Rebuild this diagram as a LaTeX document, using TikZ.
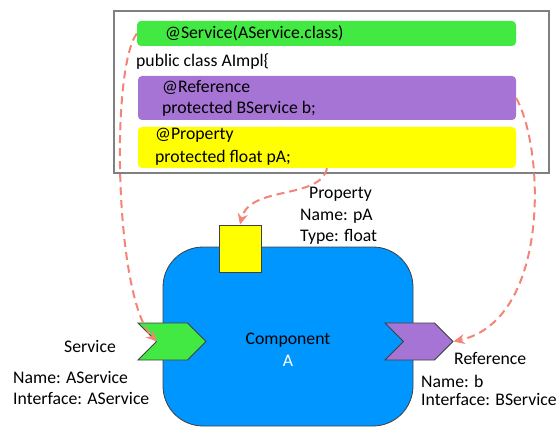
\documentclass[tikz,border=0pt]{standalone}
\usepackage{fontspec}
\setmainfont{Carlito}
\usetikzlibrary{shapes.symbols,arrows.meta}
\definecolor{svcgreen}{RGB}{67,233,67}
\definecolor{refpurple}{RGB}{165,116,212}
\definecolor{propyellow}{RGB}{255,255,0}
\definecolor{compblue}{RGB}{0,150,255}
\definecolor{wire}{RGB}{244,132,118}
\definecolor{edgegray}{RGB}{64,64,64}
\tikzset{
  txt/.style={anchor=base west,inner sep=0pt,font=\fontsize{17.7}{21}\selectfont},
  bar/.style={rectangle,rounded corners=4pt,inner sep=0pt,draw=none},
  chevron/.style={signal,signal to=east,signal from=west,signal pointer angle=90,
    draw=edgegray,line width=0.8pt,inner sep=0pt,minimum width=68pt,minimum height=37pt},
  wiring/.style={draw=wire,line width=2pt,dash pattern=on 8pt off 5pt,
    -{Stealth[length=11pt,width=10pt]}},
}
\begin{document}
\begin{tikzpicture}[x=1pt,y=-1pt]
\useasboundingbox (0,0) rectangle (558,428);

% annotated source class
\node[rectangle,draw=gray,line width=1.2pt,minimum width=435pt,minimum height=162pt,inner sep=0pt] (cls) at (331.5,92) {};
\node[bar,fill=svcgreen,minimum width=379pt,minimum height=25pt] (svcbar) at (326.5,33.5) {};
\node[bar,fill=refpurple,minimum width=378pt,minimum height=44pt] (refbar) at (327,98) {};
\node[bar,fill=propyellow,minimum width=378pt,minimum height=41pt] (propbar) at (327,147.5) {};
\node[txt] (t1) at (165,39) {@Service(AService.class)};
\node[txt] (t2) at (136,67) {public class AImpl\{};
\node[txt] (t3) at (162,93) {@Reference};
\node[txt] (t4) at (162,114) {protected BService b;};
\node[txt] (t5) at (155,140) {@Property};
\node[txt] (t6) at (155,163) {protected float pA;};

% component with its service, reference and property
\node[rectangle,rounded corners=40pt,fill=compblue,draw=edgegray,line width=0.8pt,
  minimum width=250pt,minimum height=179pt,inner sep=0pt] (comp) at (288,336.5) {};
\node[rectangle,fill=propyellow,draw=edgegray,line width=0.8pt,minimum width=42pt,
  minimum height=47pt,inner sep=0pt] (propsq) at (240,248.5) {};
\node[chevron,fill=svcgreen] (srv) at (172,341.5) {};
\node[chevron,fill=refpurple] (ref) at (419,341.5) {};
% inner notch of the service chevron
\coordinate (srvnotch) at ([xshift=-15pt]srv.center);

\node[txt,anchor=base] (c1) at (288,344) {Component};
\node[txt,anchor=base,text=white] (c2) at (288,366) {A};

\node[txt] (s1) at (64,352) {Service};
\node[txt] (s2) at (13,383) {Name: AService};
\node[txt] (s3) at (13,404) {Interface: AService};

\node[txt] (r1) at (454,364) {Reference};
\node[txt] (r2) at (421,387) {Name: b};
\node[txt] (r3) at (421,405) {Interface: BService};

\node[txt] (p1) at (309,198) {Property};
\node[txt] (p2) at (300,220) {Name: pA};
\node[txt] (p3) at (300,241) {Type: float};

% mapping of annotations onto the component
\draw[wiring] (svcbar.west) .. controls (110,70) and (115,300) .. (srvnotch);
\draw[wiring] (refbar.east) .. controls (545,150) and (550,320) .. (ref.east);
\draw[wiring] (propbar.south) .. controls (320,200) and (250,185) .. (propsq.north);
\end{tikzpicture}
\end{document}
